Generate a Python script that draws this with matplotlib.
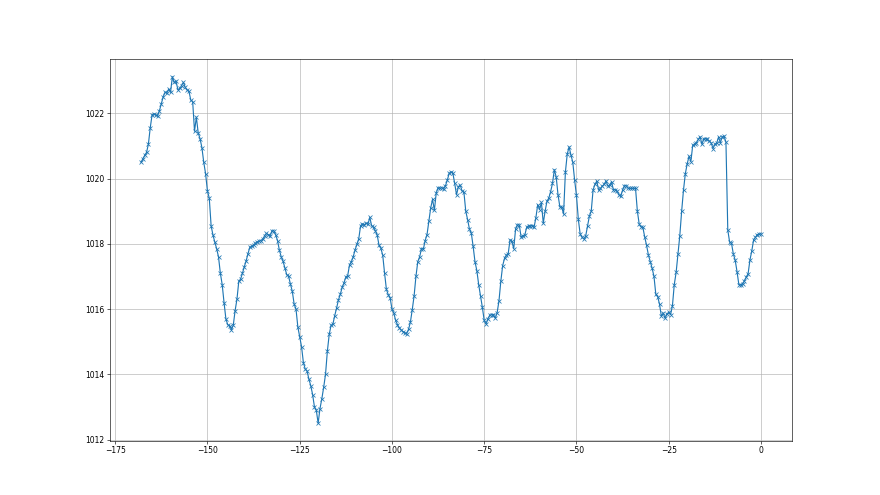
import numpy as np
import matplotlib
matplotlib.use("Agg")
import matplotlib.pyplot as plt

# Half-hourly readings (hours relative to now), pressure in hPa
hours = np.arange(-168.0, 0.5, 0.5)

day1 = [1020.5, 1020.6, 1020.71, 1020.8, 1021.05, 1021.55, 1021.95, 1021.98, 1021.95, 1021.92,
        1022.08, 1022.29, 1022.5, 1022.64, 1022.62, 1022.74, 1022.64, 1023.12, 1022.95, 1022.98,
        1022.72, 1022.76, 1022.85, 1022.95, 1022.79, 1022.71, 1022.67, 1022.4, 1022.36, 1021.45,
        1021.88, 1021.4, 1021.22, 1020.95, 1020.5, 1020.15, 1019.62, 1019.4, 1018.55, 1018.27,
        1018.05, 1017.85, 1017.6, 1017.1, 1016.75, 1016.2, 1015.7, 1015.52]
day2 = [1015.48, 1015.37, 1015.5, 1015.95, 1016.3, 1016.85, 1016.92, 1017.1, 1017.3, 1017.48,
        1017.7, 1017.9, 1017.92, 1017.96, 1018.02, 1018.06, 1018.08, 1018.1, 1018.14, 1018.25,
        1018.32, 1018.28, 1018.24, 1018.4, 1018.4, 1018.27, 1018.1, 1017.8, 1017.6, 1017.46,
        1017.25, 1017.05, 1017.0, 1016.76, 1016.54, 1016.15, 1016.0, 1015.45, 1015.15, 1014.85,
        1014.36, 1014.16, 1014.1, 1013.85, 1013.65, 1013.38, 1013.0, 1012.9]
day3 = [1012.5, 1012.95, 1013.25, 1013.6, 1014.0, 1014.71, 1015.22, 1015.5, 1015.54, 1015.8,
        1016.03, 1016.28, 1016.45, 1016.66, 1016.8, 1016.98, 1017.02, 1017.35, 1017.45, 1017.6,
        1017.81, 1017.98, 1018.15, 1018.55, 1018.61, 1018.58, 1018.63, 1018.6, 1018.81, 1018.55,
        1018.5, 1018.4, 1018.27, 1017.95, 1017.86, 1017.65, 1017.1, 1016.6, 1016.44, 1016.35,
        1016.0, 1015.88, 1015.65, 1015.52, 1015.42, 1015.36, 1015.31, 1015.27]
day4 = [1015.25, 1015.38, 1015.6, 1015.98, 1016.4, 1017.0, 1017.45, 1017.6, 1017.85, 1017.83,
        1018.1, 1018.28, 1018.7, 1019.1, 1019.36, 1019.03, 1019.56, 1019.72, 1019.7, 1019.72,
        1019.68, 1019.78, 1019.95, 1020.16, 1020.2, 1020.17, 1019.85, 1019.5, 1019.75, 1019.8,
        1019.62, 1019.58, 1019.0, 1018.74, 1018.45, 1018.33, 1017.92, 1017.45, 1017.18, 1016.75,
        1016.4, 1016.05, 1015.65, 1015.54, 1015.7, 1015.81, 1015.83, 1015.83]
day5 = [1015.72, 1015.89, 1016.25, 1016.85, 1017.33, 1017.55, 1017.65, 1017.7, 1018.12, 1018.07,
        1017.85, 1018.45, 1018.58, 1018.58, 1018.2, 1018.25, 1018.27, 1018.5, 1018.55, 1018.54,
        1018.56, 1018.5, 1018.8, 1019.2, 1019.05, 1019.27, 1018.63, 1019.0, 1019.3, 1019.4,
        1019.6, 1019.85, 1020.27, 1020.05, 1019.5, 1019.13, 1019.13, 1018.91, 1020.2, 1020.75,
        1020.97, 1020.72, 1020.5, 1019.95, 1019.48, 1018.75, 1018.3, 1018.2]
day6 = [1018.15, 1018.24, 1018.55, 1018.85, 1019.0, 1019.65, 1019.82, 1019.92, 1019.65, 1019.7,
        1019.77, 1019.82, 1019.93, 1019.77, 1019.8, 1019.9, 1019.66, 1019.66, 1019.62, 1019.5,
        1019.45, 1019.65, 1019.78, 1019.78, 1019.7, 1019.7, 1019.7, 1019.7, 1019.7, 1019.0,
        1018.6, 1018.52, 1018.5, 1018.2, 1017.95, 1017.65, 1017.45, 1017.25, 1017.0, 1016.45,
        1016.38, 1016.15, 1015.78, 1015.88, 1015.72, 1015.85, 1015.9, 1015.83]
day7 = [1016.1, 1016.75, 1017.12, 1017.7, 1018.25, 1019.0, 1019.65, 1020.15, 1020.45, 1020.68,
        1020.52, 1021.02, 1021.05, 1021.1, 1021.2, 1021.28, 1021.05, 1021.22, 1021.22, 1021.2,
        1021.15, 1021.09, 1020.92, 1021.05, 1021.09, 1021.27, 1021.1, 1021.28, 1021.29, 1021.12,
        1018.42, 1018.05, 1018.02, 1017.69, 1017.5, 1017.15, 1016.75, 1016.73, 1016.78, 1016.86,
        1016.98, 1017.08, 1017.5, 1017.78, 1018.12, 1018.2, 1018.28, 1018.3]
now = [1018.3]

pressure = np.array(day1 + day2 + day3 + day4 + day5 + day6 + day7 + now)
n = min(len(hours), len(pressure))

fig = plt.figure(figsize=(16, 9), dpi=55)
ax = fig.add_subplot(111)
ax.plot(hours[:n], pressure[:n], marker="x", color="#1f77b4")
ax.grid(True)

fig.savefig("out.png", dpi=55)
